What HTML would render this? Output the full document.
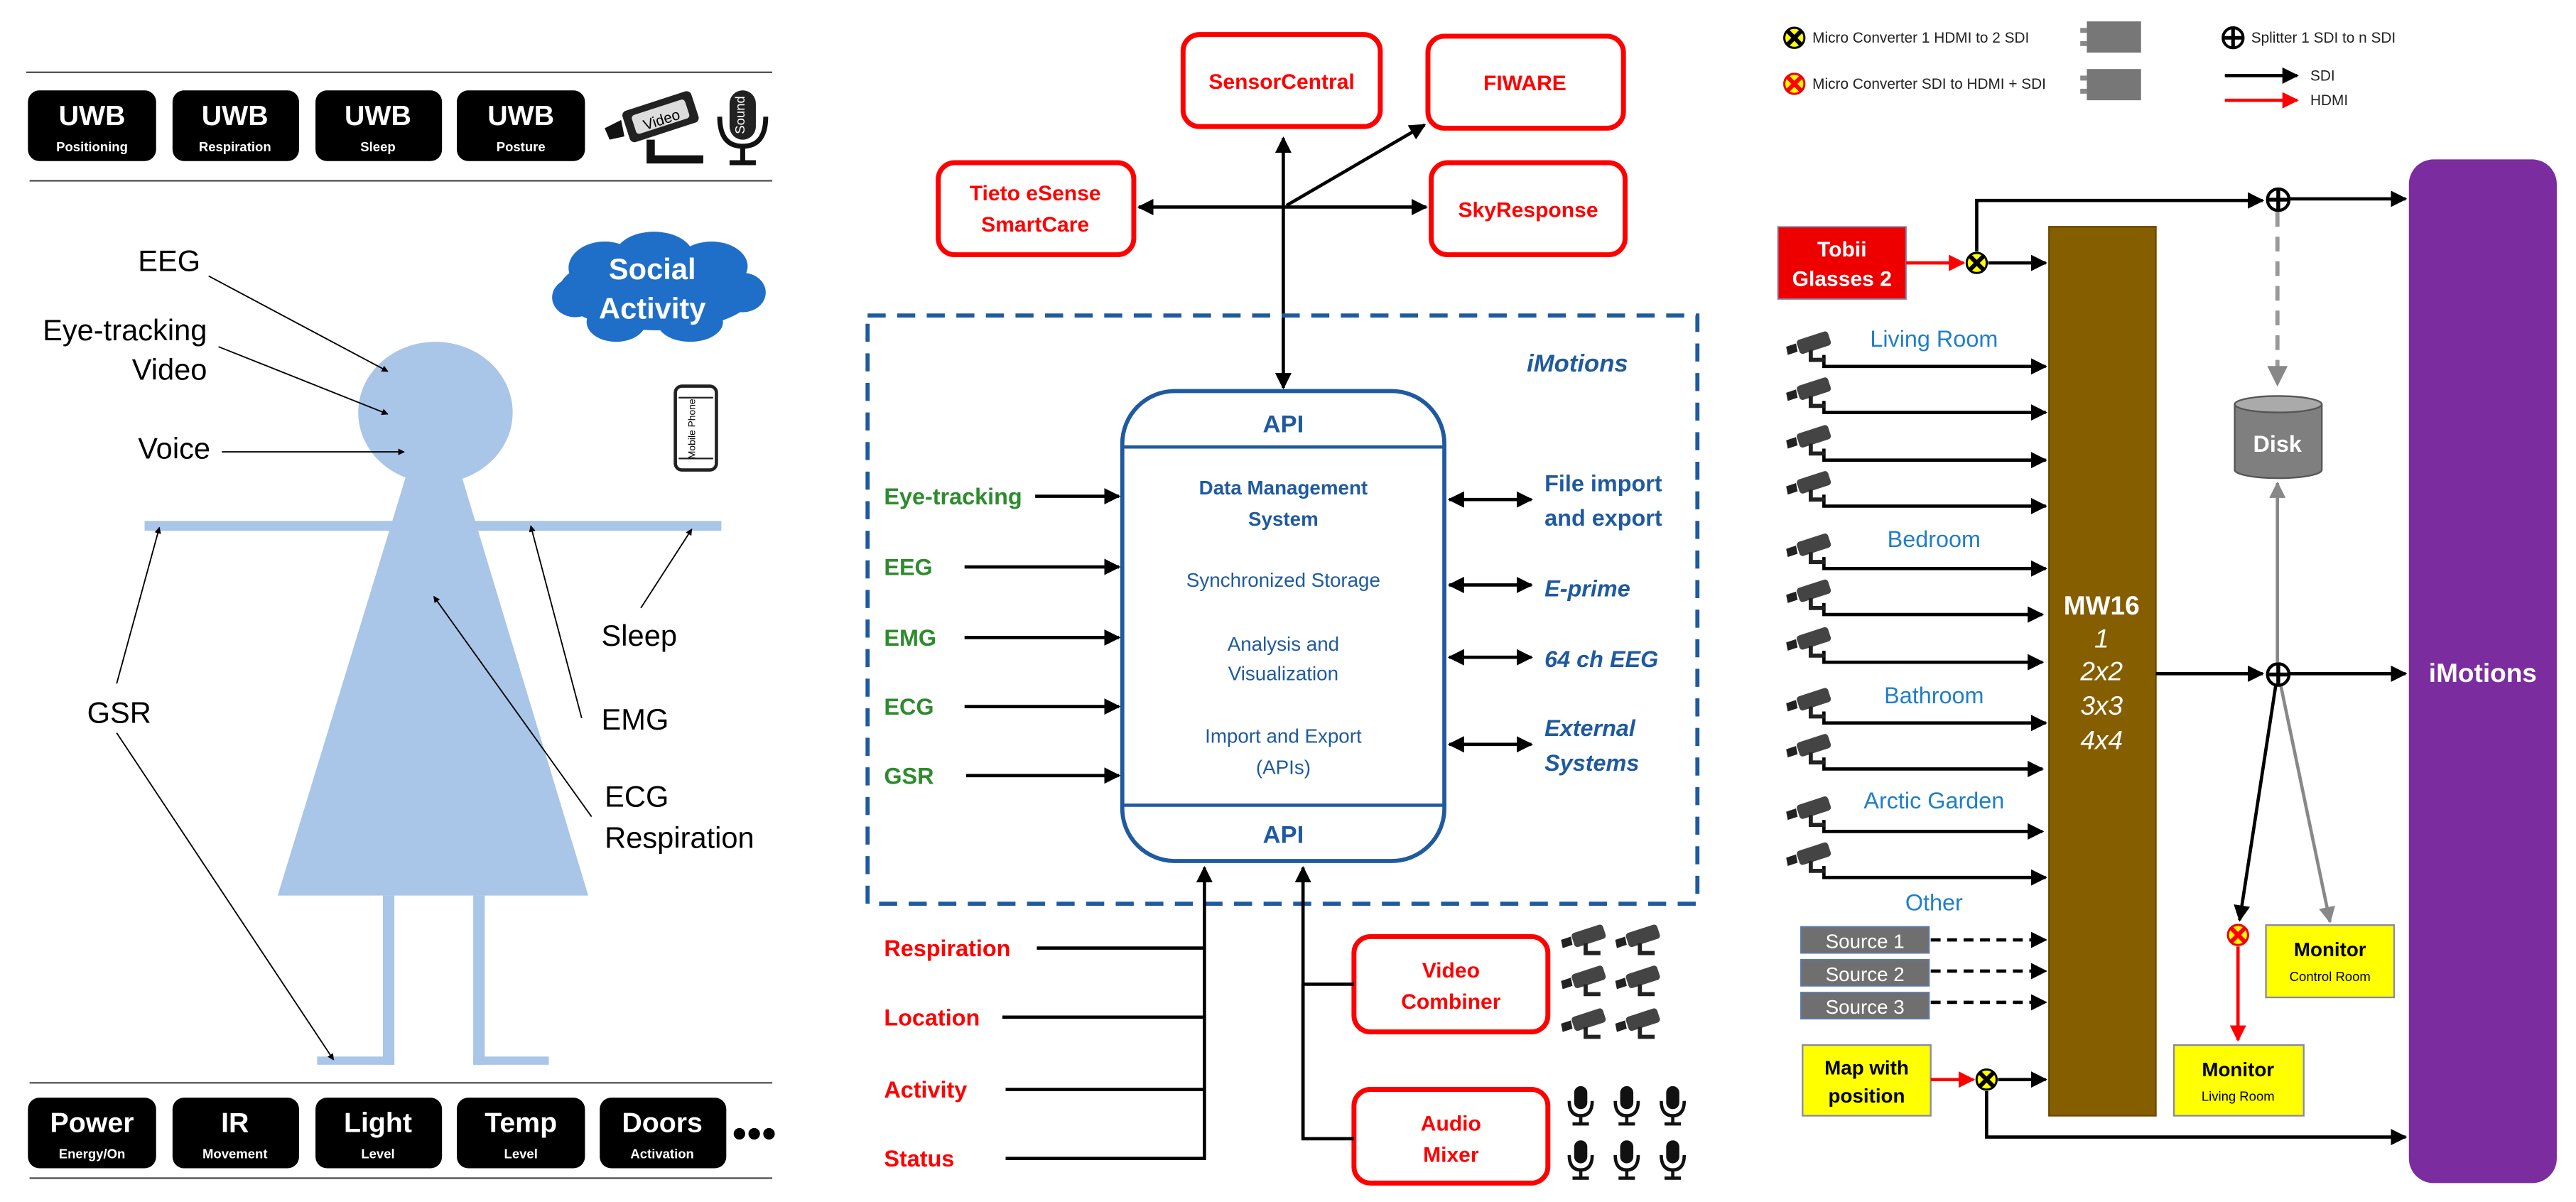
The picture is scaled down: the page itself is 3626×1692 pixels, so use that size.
<!DOCTYPE html>
<html><head><meta charset="utf-8"><style>
html,body{margin:0;padding:0;background:#fff;}
svg{display:block;}
text{font-family:"Liberation Sans",sans-serif;}
</style></head><body>
<svg width="3626" height="1692" viewBox="0 0 1567.7 731.5" xmlns="http://www.w3.org/2000/svg">
<defs>
<marker id="ak" viewBox="0 0 10 10" refX="9" refY="5" markerWidth="5" markerHeight="5" orient="auto-start-reverse"><path d="M0,0L10,5L0,10z" fill="#000"/></marker>
<marker id="ar" viewBox="0 0 10 10" refX="9" refY="5" markerWidth="5" markerHeight="5" orient="auto-start-reverse"><path d="M0,0L10,5L0,10z" fill="#f00"/></marker>
<marker id="ag" viewBox="0 0 10 10" refX="9" refY="5" markerWidth="5" markerHeight="5" orient="auto-start-reverse"><path d="M0,0L10,5L0,10z" fill="#888"/></marker>
<symbol id="cam" viewBox="0 0 30 22">
<path d="M0,12L6,10L7,15L1,17z" fill="#222"/>
<rect x="7" y="5" width="20" height="9" rx="2" fill="#444" transform="rotate(-18 17 10)"/>
<path d="M15,14L15,20L24,20" stroke="#222" stroke-width="2.5" fill="none"/>
</symbol>
<symbol id="mic" viewBox="0 0 20 26">
<rect x="6" y="1" width="8" height="14" rx="4" fill="#111"/>
<path d="M3,10Q3,19 10,19Q17,19 17,10" stroke="#111" stroke-width="2" fill="none"/>
<path d="M10,19V24M5,24H15" stroke="#111" stroke-width="2"/>
</symbol>
<symbol id="cx" viewBox="0 0 16 16"><circle cx="8" cy="8" r="7" fill="#ff0" stroke="#000" stroke-width="1.5"/><path d="M3.5,3.5L12.5,12.5M12.5,3.5L3.5,12.5" stroke="#000" stroke-width="3"/></symbol>
<symbol id="cxr" viewBox="0 0 16 16"><circle cx="8" cy="8" r="7" fill="#ff0" stroke="#e00" stroke-width="1.5"/><path d="M3.5,3.5L12.5,12.5M12.5,3.5L3.5,12.5" stroke="#f00" stroke-width="3"/></symbol>
<symbol id="sp" viewBox="0 0 16 16"><circle cx="8" cy="8" r="7" fill="#fff" stroke="#000" stroke-width="2"/><path d="M8,1V15M1,8H15" stroke="#000" stroke-width="2.5"/></symbol>
</defs>

<!-- LEFT PANEL -->
<g stroke="#555" stroke-width="1"><line x1="16" y1="44" x2="470" y2="44"/><line x1="18" y1="110" x2="470" y2="110"/><line x1="18" y1="659" x2="470" y2="659"/><line x1="18" y1="717" x2="470" y2="717"/></g>
<g font-weight="bold" fill="#fff" text-anchor="middle">
<rect x="17" y="55" width="78" height="43" rx="7" fill="#000"/><text x="56" y="76" font-size="17">UWB</text><text x="56" y="92" font-size="8">Positioning</text>
<rect x="105" y="55" width="77" height="43" rx="7" fill="#000"/><text x="143" y="76" font-size="17">UWB</text><text x="143" y="92" font-size="8">Respiration</text>
<rect x="192" y="55" width="77" height="43" rx="7" fill="#000"/><text x="230" y="76" font-size="17">UWB</text><text x="230" y="92" font-size="8">Sleep</text>
<rect x="278" y="55" width="78" height="43" rx="7" fill="#000"/><text x="317" y="76" font-size="17">UWB</text><text x="317" y="92" font-size="8">Posture</text>
<rect x="17" y="668" width="78" height="43" rx="7" fill="#000"/><text x="56" y="689" font-size="17">Power</text><text x="56" y="705" font-size="8">Energy/On</text>
<rect x="105" y="668" width="77" height="43" rx="7" fill="#000"/><text x="143" y="689" font-size="17">IR</text><text x="143" y="705" font-size="8">Movement</text>
<rect x="192" y="668" width="77" height="43" rx="7" fill="#000"/><text x="230" y="689" font-size="17">Light</text><text x="230" y="705" font-size="8">Level</text>
<rect x="278" y="668" width="78" height="43" rx="7" fill="#000"/><text x="317" y="689" font-size="17">Temp</text><text x="317" y="705" font-size="8">Level</text>
<rect x="365" y="668" width="77" height="43" rx="7" fill="#000"/><text x="403" y="689" font-size="17">Doors</text><text x="403" y="705" font-size="8">Activation</text>
</g>
<g fill="#000"><circle cx="450" cy="690" r="3.5"/><circle cx="459" cy="690" r="3.5"/><circle cx="468" cy="690" r="3.5"/></g>
<g transform="translate(368,55)">
<path d="M0,23L10,18L12,28L3,30z" fill="#111"/>
<rect x="12" y="6" width="44" height="20" rx="3" fill="#222" transform="rotate(-18 34 16)"/>
<rect x="17" y="10" width="34" height="12" rx="2" fill="#ddd" transform="rotate(-18 34 16)"/>
<text x="34" y="21" font-size="9" fill="#000" text-anchor="middle" transform="rotate(-18 34 16)">Video</text>
<path d="M28,30L28,42L60,42" stroke="#111" stroke-width="5" fill="none"/>
</g>
<g transform="translate(436,53)">
<rect x="8" y="2" width="16" height="30" rx="8" fill="#222"/>
<text x="17" y="17" font-size="8" fill="#fff" text-anchor="middle" transform="rotate(-90 17 17)">Sound</text>
<path d="M2,18Q2,36 16,36Q30,36 30,18" stroke="#111" stroke-width="3" fill="none"/>
<path d="M16,36V46M8,46H24" stroke="#111" stroke-width="3"/>
</g>
<!-- cloud -->
<g fill="#1f6fc8">
<ellipse cx="400" cy="177" rx="60" ry="24"/>
<ellipse cx="368" cy="163" rx="22" ry="16"/><ellipse cx="398" cy="156" rx="24" ry="15"/><ellipse cx="433" cy="162" rx="22" ry="15"/><ellipse cx="452" cy="178" rx="14" ry="12"/><ellipse cx="350" cy="181" rx="14" ry="12"/><ellipse cx="375" cy="196" rx="18" ry="12"/><ellipse cx="420" cy="196" rx="20" ry="12"/>
</g>
<text x="397" y="170" font-size="18" font-weight="bold" fill="#fff" text-anchor="middle">Social</text>
<text x="397" y="194" font-size="18" font-weight="bold" fill="#fff" text-anchor="middle">Activity</text>
<rect x="411" y="235" width="25" height="51" rx="4" fill="#fff" stroke="#222" stroke-width="2"/>
<line x1="413" y1="242" x2="434" y2="242" stroke="#222"/><line x1="413" y1="279" x2="434" y2="279" stroke="#222"/>
<text x="423" y="261" font-size="6" text-anchor="middle" transform="rotate(-90 423 261)">Mobile Phone</text>
<g fill="#a9c5e8">
<ellipse cx="265" cy="251" rx="47" ry="43"/>
<rect x="88" y="317" width="351" height="6"/>
<path d="M247,290L281,290L358,545L169,545z"/>
<rect x="233" y="545" width="7" height="103"/><rect x="288" y="545" width="7" height="103"/>
<rect x="193" y="643" width="47" height="5"/><rect x="288" y="643" width="46" height="5"/>
</g>
<g font-size="18" fill="#000">
<text x="122" y="165" text-anchor="end">EEG</text>
<text x="126" y="207" text-anchor="end">Eye-tracking</text>
<text x="126" y="231" text-anchor="end">Video</text>
<text x="128" y="279" text-anchor="end">Voice</text>
<text x="53" y="440">GSR</text>
<text x="366" y="393">Sleep</text>
<text x="366" y="444">EMG</text>
<text x="368" y="491">ECG</text>
<text x="368" y="516">Respiration</text>
</g>
<g stroke="#000" stroke-width="0.8" fill="none" marker-end="url(#ak)">
<line x1="127" y1="168" x2="236" y2="226"/>
<line x1="133" y1="211" x2="236" y2="252"/>
<line x1="135" y1="275" x2="246" y2="275"/>
<line x1="71" y1="416" x2="97" y2="321"/>
<line x1="71" y1="446" x2="203" y2="645"/>
<line x1="390" y1="370" x2="421" y2="322"/>
<line x1="354" y1="437" x2="323" y2="320"/>
<line x1="360" y1="497" x2="264" y2="363"/>
</g>

<!-- MIDDLE PANEL -->
<g fill="#fff" stroke="#f00" stroke-width="3">
<rect x="720" y="21" width="120" height="56" rx="10"/>
<rect x="869" y="22" width="119" height="56" rx="10"/>
<rect x="571" y="99" width="119" height="56" rx="10"/>
<rect x="871" y="99" width="118" height="56" rx="10"/>
<rect x="824" y="570" width="118" height="58" rx="10"/>
<rect x="824" y="663" width="118" height="57" rx="10"/>
</g>
<g fill="#f00" font-weight="bold" font-size="13" text-anchor="middle">
<text x="780" y="54">SensorCentral</text>
<text x="928" y="55">FIWARE</text>
<text x="630" y="122">Tieto eSense</text><text x="630" y="141">SmartCare</text>
<text x="930" y="132">SkyResponse</text>
<text x="883" y="595">Video</text><text x="883" y="614">Combiner</text>
<text x="883" y="688">Audio</text><text x="883" y="707">Mixer</text>
</g>
<g stroke="#000" stroke-width="2" fill="none">
<line x1="781" y1="84" x2="781" y2="236" marker-start="url(#ak)" marker-end="url(#ak)"/>
<line x1="693" y1="126" x2="868" y2="126" marker-start="url(#ak)" marker-end="url(#ak)"/>
<line x1="783" y1="125" x2="867" y2="76" marker-end="url(#ak)"/>
</g>
<rect x="528" y="192" width="505" height="358" fill="none" stroke="#1f5aa0" stroke-width="2.5" stroke-dasharray="11,7"/>
<text x="960" y="226" font-size="15" font-weight="bold" font-style="italic" fill="#1f5aa0" text-anchor="middle">iMotions</text>
<rect x="683" y="238" width="196" height="286" rx="32" fill="#fff" stroke="#1f5aa0" stroke-width="2.5"/>
<line x1="683" y1="272" x2="879" y2="272" stroke="#1f5aa0" stroke-width="2"/>
<line x1="683" y1="490" x2="879" y2="490" stroke="#1f5aa0" stroke-width="2"/>
<g fill="#1f5aa0" text-anchor="middle">
<text x="781" y="263" font-size="15" font-weight="bold">API</text>
<text x="781" y="513" font-size="15" font-weight="bold">API</text>
<text x="781" y="301" font-size="12" font-weight="bold">Data Management</text>
<text x="781" y="320" font-size="12" font-weight="bold">System</text>
<text x="781" y="357" font-size="12">Synchronized Storage</text>
<text x="781" y="396" font-size="12">Analysis and</text><text x="781" y="414" font-size="12">Visualization</text>
<text x="781" y="452" font-size="12">Import and Export</text><text x="781" y="471" font-size="12">(APIs)</text>
</g>
<g fill="#2e8b2e" font-weight="bold" font-size="14">
<text x="538" y="307">Eye-tracking</text><text x="538" y="350">EEG</text><text x="538" y="393">EMG</text><text x="538" y="435">ECG</text><text x="538" y="477">GSR</text>
</g>
<g stroke="#000" stroke-width="2" marker-end="url(#ak)">
<line x1="630" y1="302" x2="681" y2="302"/><line x1="587" y1="345" x2="681" y2="345"/><line x1="587" y1="388" x2="681" y2="388"/><line x1="587" y1="430" x2="681" y2="430"/><line x1="588" y1="472" x2="681" y2="472"/>
</g>
<g stroke="#000" stroke-width="2" marker-start="url(#ak)" marker-end="url(#ak)">
<line x1="882" y1="304" x2="932" y2="304"/><line x1="882" y1="356" x2="932" y2="356"/><line x1="882" y1="400" x2="932" y2="400"/><line x1="882" y1="453" x2="932" y2="453"/>
</g>
<g fill="#1f5aa0" font-weight="bold" font-size="14">
<text x="940" y="299">File import</text><text x="940" y="320">and export</text>
<text x="940" y="363" font-style="italic">E-prime</text>
<text x="940" y="406" font-style="italic">64 ch EEG</text>
<text x="940" y="448" font-style="italic">External</text><text x="940" y="469" font-style="italic">Systems</text>
</g>
<g fill="#f00" font-weight="bold" font-size="14">
<text x="538" y="582">Respiration</text><text x="538" y="624">Location</text><text x="538" y="668">Activity</text><text x="538" y="710">Status</text>
</g>
<g stroke="#000" stroke-width="2" fill="none">
<line x1="631" y1="577" x2="733" y2="577"/><line x1="610" y1="619" x2="733" y2="619"/><line x1="612" y1="663" x2="733" y2="663"/><line x1="612" y1="705" x2="733" y2="705"/>
<line x1="733" y1="706" x2="733" y2="528" marker-end="url(#ak)"/>
<path d="M824,599H793M824,693H793V528" marker-end="url(#ak)"/>
<line x1="793" y1="599" x2="793" y2="693"/>
</g>
<g>
<use href="#cam" x="950" y="560" width="30" height="22"/><use href="#cam" x="983" y="560" width="30" height="22"/>
<use href="#cam" x="950" y="585" width="30" height="22"/><use href="#cam" x="983" y="585" width="30" height="22"/>
<use href="#cam" x="950" y="611" width="30" height="22"/><use href="#cam" x="983" y="611" width="30" height="22"/>
<use href="#mic" x="952" y="660" width="20" height="26"/><use href="#mic" x="980" y="660" width="20" height="26"/><use href="#mic" x="1008" y="660" width="20" height="26"/>
<use href="#mic" x="952" y="693" width="20" height="26"/><use href="#mic" x="980" y="693" width="20" height="26"/><use href="#mic" x="1008" y="693" width="20" height="26"/>
</g>

<!-- RIGHT PANEL -->
<use href="#cx" x="1085" y="16" width="14" height="14"/>
<use href="#cxr" x="1085" y="44" width="14" height="14"/>
<g font-size="9" fill="#222">
<text x="1103" y="26">Micro Converter 1 HDMI to 2 SDI</text>
<text x="1103" y="54">Micro Converter SDI to HDMI + SDI</text>
<text x="1370" y="26">Splitter 1 SDI to n SDI</text>
<text x="1406" y="49">SDI</text><text x="1406" y="64">HDMI</text>
</g>
<rect x="1270" y="13" width="33" height="19" fill="#777"/><rect x="1266" y="17" width="4" height="3" fill="#888"/><rect x="1266" y="25" width="4" height="3" fill="#888"/>
<rect x="1270" y="42" width="33" height="19" fill="#777"/><rect x="1266" y="46" width="4" height="3" fill="#888"/><rect x="1266" y="54" width="4" height="3" fill="#888"/>
<use href="#sp" x="1352" y="16" width="14" height="14"/>
<line x1="1354" y1="46" x2="1398" y2="46" stroke="#000" stroke-width="2" marker-end="url(#ak)"/>
<line x1="1354" y1="61" x2="1398" y2="61" stroke="#f00" stroke-width="2" marker-end="url(#ar)"/>

<rect x="1466" y="97" width="90" height="623" rx="15" fill="#7b2c9e"/>
<text x="1511" y="415" font-size="16" font-weight="bold" fill="#fff" text-anchor="middle">iMotions</text>
<rect x="1247" y="138" width="65" height="541" fill="#855e00" stroke="#6b4a00"/>
<g fill="#fff" font-size="16" text-anchor="middle" font-weight="bold">
<text x="1279" y="374">MW16</text>
<g font-style="italic" font-weight="normal"><text x="1279" y="394">1</text><text x="1279" y="414">2x2</text><text x="1279" y="435">3x3</text><text x="1279" y="456">4x4</text></g>
</g>
<rect x="1082" y="138" width="78" height="44" fill="#e00" stroke="#88a" stroke-width="0.8"/>
<text x="1121" y="156" font-size="13" font-weight="bold" fill="#fff" text-anchor="middle">Tobii</text>
<text x="1121" y="174" font-size="13" font-weight="bold" fill="#fff" text-anchor="middle">Glasses 2</text>
<line x1="1160" y1="160" x2="1195" y2="160" stroke="#f00" stroke-width="2" marker-end="url(#ar)"/>
<g stroke="#000" stroke-width="2" fill="none">
<line x1="1210" y1="160" x2="1245" y2="160" marker-end="url(#ak)"/>
<path d="M1203,153V122H1377" marker-end="url(#ak)"/>
<line x1="1393" y1="121" x2="1464" y2="121" marker-end="url(#ak)"/>
<line x1="1312" y1="410" x2="1377" y2="410" marker-end="url(#ak)"/>
<line x1="1393" y1="410" x2="1464" y2="410" marker-end="url(#ak)"/>
<line x1="1385" y1="417" x2="1363" y2="560" marker-end="url(#ak)"/>
<path d="M1209,664V692H1464" marker-end="url(#ak)"/>
<line x1="1216" y1="657" x2="1245" y2="657" marker-end="url(#ak)"/>
</g>
<line x1="1386" y1="129" x2="1386" y2="234" stroke="#999" stroke-width="2.5" stroke-dasharray="9,6" marker-end="url(#ag)"/>
<line x1="1386" y1="403" x2="1386" y2="294" stroke="#888" stroke-width="2" marker-end="url(#ag)"/>
<line x1="1388" y1="417" x2="1418" y2="561" stroke="#888" stroke-width="2" marker-end="url(#ag)"/>
<use href="#cx" x="1196" y="153" width="14" height="14"/>
<use href="#sp" x="1379" y="114" width="15" height="15"/>
<use href="#sp" x="1379" y="403" width="15" height="15"/>
<path d="M1360,246V286A26.5,5 0 0 0 1413,286V246z" fill="#7f7f7f" stroke="#555"/>
<ellipse cx="1386.5" cy="246" rx="26.5" ry="5" fill="#aaa" stroke="#555"/>
<text x="1386" y="275" font-size="14" font-weight="bold" fill="#fff" text-anchor="middle">Disk</text>
<use href="#cxr" x="1355" y="562" width="14" height="14"/>
<line x1="1362" y1="576" x2="1362" y2="633" stroke="#f00" stroke-width="2" marker-end="url(#ar)"/>
<rect x="1379" y="563" width="78" height="44" fill="#ff0" stroke="#88a"/>
<text x="1418" y="582" font-size="12" font-weight="bold" text-anchor="middle">Monitor</text><text x="1418" y="597" font-size="8" text-anchor="middle">Control Room</text>
<rect x="1323" y="636" width="79" height="43" fill="#ff0" stroke="#88a"/>
<text x="1362" y="655" font-size="12" font-weight="bold" text-anchor="middle">Monitor</text><text x="1362" y="670" font-size="8" text-anchor="middle">Living Room</text>
<g fill="#1f7fc8" font-size="14" text-anchor="middle">
<text x="1177" y="211">Living Room</text><text x="1177" y="333">Bedroom</text><text x="1177" y="428">Bathroom</text><text x="1177" y="492">Arctic Garden</text><text x="1177" y="554">Other</text>
</g>
<g stroke="#000" stroke-width="2" fill="none" marker-end="url(#ak)">
<path d="M1110,216V223H1245"/><path d="M1110,244V251H1245"/><path d="M1110,273V280H1245"/><path d="M1110,301V308H1245"/>
<path d="M1110,339V346H1245"/><path d="M1110,367V374H1243"/><path d="M1110,396V403H1243"/>
<path d="M1110,433V440H1245"/><path d="M1110,461V468H1243"/>
<path d="M1110,499V506H1243"/><path d="M1110,527V534H1245"/>
</g>
<g>
<use href="#cam" x="1087" y="199" width="30" height="22"/><use href="#cam" x="1087" y="227" width="30" height="22"/><use href="#cam" x="1087" y="256" width="30" height="22"/><use href="#cam" x="1087" y="284" width="30" height="22"/>
<use href="#cam" x="1087" y="322" width="30" height="22"/><use href="#cam" x="1087" y="350" width="30" height="22"/><use href="#cam" x="1087" y="379" width="30" height="22"/>
<use href="#cam" x="1087" y="416" width="30" height="22"/><use href="#cam" x="1087" y="444" width="30" height="22"/>
<use href="#cam" x="1087" y="482" width="30" height="22"/><use href="#cam" x="1087" y="510" width="30" height="22"/>
</g>
<g fill="#6f6f6f" stroke="#5a7ab0" stroke-width="0.8">
<rect x="1096" y="564" width="78" height="16"/><rect x="1096" y="584" width="78" height="16"/><rect x="1096" y="604" width="78" height="16"/>
</g>
<g fill="#fff" font-size="12" text-anchor="middle"><text x="1135" y="577">Source 1</text><text x="1135" y="597">Source 2</text><text x="1135" y="617">Source 3</text></g>
<g stroke="#000" stroke-width="2" stroke-dasharray="6,4" marker-end="url(#ak)">
<line x1="1175" y1="572" x2="1245" y2="572"/><line x1="1175" y1="591" x2="1245" y2="591"/><line x1="1175" y1="610" x2="1245" y2="610"/>
</g>
<rect x="1097" y="636" width="78" height="43" fill="#ff0" stroke="#88a"/>
<text x="1136" y="654" font-size="12" font-weight="bold" text-anchor="middle">Map with</text><text x="1136" y="671" font-size="12" font-weight="bold" text-anchor="middle">position</text>
<line x1="1175" y1="657" x2="1201" y2="657" stroke="#f00" stroke-width="2" marker-end="url(#ar)"/>
<use href="#cx" x="1202" y="650" width="14" height="14"/>
</svg>
</body></html>
